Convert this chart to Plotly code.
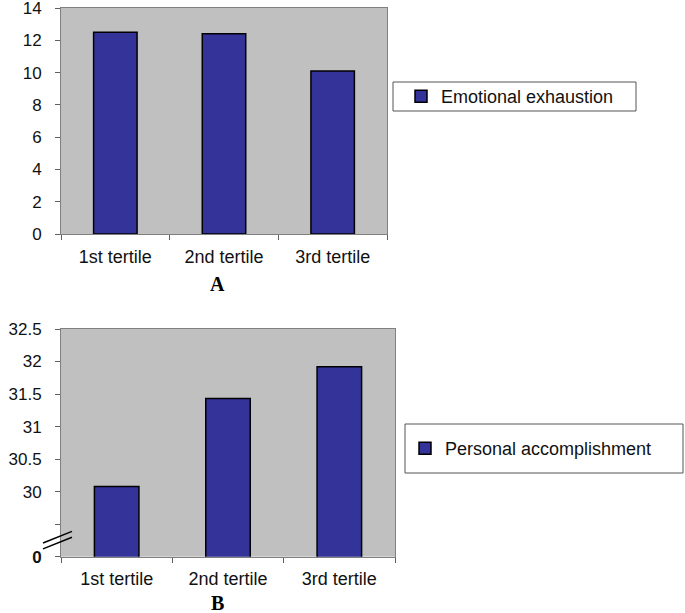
import plotly.graph_objects as go

W, H = 685, 613

categories = ["1st tertile", "2nd tertile", "3rd tertile"]
emotional_exhaustion = [12.5, 12.4, 10.1]
personal_accomplishment = [30.08, 31.43, 31.92]

a_tickvals = [0, 2, 4, 6, 8, 10, 12, 14]
b_tickvals = [29, 29.5, 30, 30.5, 31, 31.5, 32, 32.5]
b_ticktext = ["<b>0</b>", "", "30", "30.5", "31", "31.5", "32", "32.5"]

BAR = "#333399"
PLOT_BG = "#C0C0C0"
FONT = "Liberation Sans, Arial, sans-serif"

def px_x(x):
    return x / W

def px_y(y):
    return 1 - y / H

fig = go.Figure()
fig.add_trace(go.Bar(x=categories, y=emotional_exhaustion, name="Emotional exhaustion",
                     marker=dict(color=BAR, line=dict(color="black", width=1.5)),
                     xaxis="x", yaxis="y", legend="legend"))
fig.add_trace(go.Bar(x=categories, y=personal_accomplishment, name="Personal accomplishment",
                     marker=dict(color=BAR, line=dict(color="black", width=1.5)),
                     xaxis="x2", yaxis="y2", legend="legend2"))

axis_common = dict(showline=True, linecolor="#808080", linewidth=1, mirror=True,
                   ticks="outside", tickcolor="#606060", ticklen=5, automargin=False,
                   ticklabeloverflow="allow", showgrid=False, zeroline=False)
xfont = dict(family=FONT, size=18, color="#111")
yfont = dict(family=FONT, size=17, color="#111")

fig.update_layout(
    width=W, height=H,
    margin=dict(l=0, r=0, t=0, b=0, autoexpand=False),
    paper_bgcolor="white",
    plot_bgcolor=PLOT_BG,
    bargap=0.6,
    xaxis=dict(domain=[px_x(61), px_x(387)], anchor="y", tickson="boundaries",
               ticklabelstandoff=6, tickfont=xfont, **axis_common),
    yaxis=dict(domain=[px_y(234), px_y(8)], anchor="x", range=[0, 14], tickvals=a_tickvals,
               ticklabelstandoff=10, tickfont=yfont, **axis_common),
    xaxis2=dict(domain=[px_x(61), px_x(395)], anchor="y2", tickson="boundaries",
                ticklabelstandoff=6, tickfont=xfont, **axis_common),
    yaxis2=dict(domain=[px_y(556.7), px_y(329)], anchor="x2", range=[29, 32.5],
                tickvals=b_tickvals, ticktext=b_ticktext, ticklabelstandoff=10, tickfont=yfont,
                **axis_common),
    legend=dict(x=px_x(401), y=px_y(96.5), xanchor="left", yanchor="middle",
                bgcolor="rgba(0,0,0,0)", borderwidth=0,
                font=dict(family=FONT, size=18, color="#111")),
    legend2=dict(x=px_x(405), y=px_y(448.5), xanchor="left", yanchor="middle",
                 bgcolor="rgba(0,0,0,0)", borderwidth=0,
                 font=dict(family=FONT, size=18, color="#111")),
    showlegend=True,
)

# legend boxes
fig.add_shape(type="rect", xref="paper", yref="paper", x0=px_x(393), x1=px_x(636),
              y0=px_y(111), y1=px_y(82), line=dict(color="#555", width=1), layer="below")
fig.add_shape(type="rect", xref="paper", yref="paper", x0=px_x(405), x1=px_x(683),
              y0=px_y(473), y1=px_y(424), line=dict(color="#555", width=1), layer="below")

# axis break marks
for dy in [0.0, 0.09]:
    fig.add_shape(type="line", xref="paper", yref="y2",
                  x0=px_x(43), x1=px_x(72), y0=29.12 + dy, y1=29.3 + dy,
                  line=dict(color="black", width=1.5))

# panel labels
fig.add_annotation(text="<b>A</b>", x=px_x(217), y=px_y(284), xref="paper", yref="paper",
                   xanchor="center", yanchor="middle", showarrow=False,
                   font=dict(family="Liberation Serif, Times New Roman, serif", size=20, color="black"))
fig.add_annotation(text="<b>B</b>", x=px_x(217), y=px_y(603), xref="paper", yref="paper",
                   xanchor="center", yanchor="middle", showarrow=False,
                   font=dict(family="Liberation Serif, Times New Roman, serif", size=20, color="black"))

fig.write_html("out.html", config={"displayModeBar": False},
               post_script="document.body.style.margin='0';")
